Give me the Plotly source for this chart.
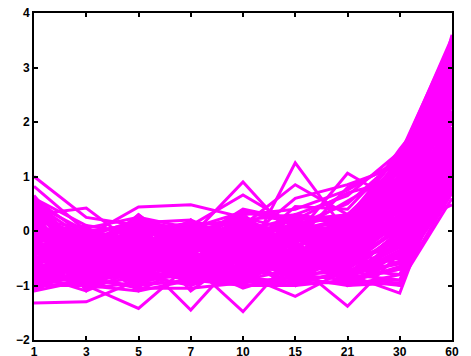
import plotly.graph_objects as go

days = ["1", "3", "5", "7", "10", "15", "21", "30", "60"]
y_ticks = [-2, -1, 0, 1, 2, 3, 4]

# expression profiles (one list per gene)
profiles = [
    [1.0, 0.25, 0.1, 0.0, -0.1, 0.2, 0.3, 0.9, 2.6],
    [0.82, 0.0, -0.2, -0.1, 0.0, -0.3, 0.1, 0.6, 2.4],
    [0.3, 0.42, -0.3, 0.1, 0.2, -0.1, 0.0, 0.2, 1.8],
    [-0.2, -0.1, 0.44, 0.48, 0.25, 0.0, 0.2, 0.5, 2.0],
    [-0.3, -0.5, -0.2, -0.1, 0.9, -0.15, 0.2, 0.7, 2.1],
    [-0.4, -0.2, -0.5, -0.3, -0.6, 1.25, -0.05, 0.4, 1.6],
    [-0.1, -0.3, 0.0, -0.2, -0.1, -0.1, 1.06, 0.5, 1.9],
    [0.1, -0.2, 0.1, 0.0, 0.2, 0.3, 0.17, 1.5, 2.7],
    [-0.5, -0.6, -0.4, -0.5, -0.3, -0.4, -0.2, 0.0, 3.6],
    [-0.6, -0.4, -0.3, 0.1, 0.66, 0.1, 0.3, 0.9, 2.3],
    [-0.2, -0.4, -0.6, -0.2, 0.1, 0.85, 0.3, 1.0, 2.5],
    [0.0, -0.3, -0.1, -0.4, -0.2, 0.6, 0.85, 1.2, 3.0],
    [-0.7, -0.5, -0.3, -0.1, 0.3, 0.4, 0.75, 1.3, 3.3],
    [-1.32, -1.3, -0.9, -0.8, -0.9, -1.0, -0.9, -0.7, 0.9],
    [-1.0, -1.0, -1.42, -0.6, -0.7, -0.9, -0.8, -0.9, 0.7],
    [-0.9, -0.8, -0.5, -1.45, -0.4, -0.8, -0.9, -1.0, 1.1],
    [-0.8, -1.1, -0.7, -0.6, -1.48, -0.4, -0.8, -0.6, 1.2],
    [-1.1, -0.9, -1.0, -0.9, -0.8, -1.2, -0.7, -0.8, 1.0],
    [-0.7, -0.9, -0.8, -1.0, -0.7, -0.6, -1.38, -0.4, 1.3],
    [-0.9, -1.0, -1.1, -0.9, -1.0, -0.9, -0.8, -1.14, 1.4],
    [-0.5, -0.7, -0.6, -0.8, -0.9, -0.7, -0.6, 0.05, 0.48],
    [0.6, -0.1, 0.2, -0.3, 0.1, -0.2, 0.0, 0.8, 2.9],
    [0.5, 0.0, -0.4, 0.1, -0.5, 0.2, -0.3, 0.6, 2.2],
    [0.4, -0.6, 0.0, -0.2, 0.3, -0.6, 0.1, 1.1, 3.1],
    [0.3, -0.3, -0.8, 0.0, -0.2, -0.4, -0.7, 0.3, 1.7],
    [0.2, -0.8, -0.1, -0.6, 0.0, 0.1, -0.5, 0.4, 2.0],
    [0.1, -0.2, -0.6, -0.9, -0.3, -0.8, -0.2, 0.7, 2.6],
    [0.0, -0.5, 0.3, -0.4, -0.7, 0.0, -0.9, -0.2, 1.4],
    [-0.1, 0.1, -0.9, -0.5, -0.1, -0.3, 0.2, 1.0, 3.2],
    [-0.2, -0.9, -0.3, 0.2, -0.9, -0.5, -0.4, 0.1, 1.6],
    [-0.3, -0.4, -0.7, -0.2, 0.2, -0.9, 0.0, 0.9, 2.8],
    [-0.4, 0.0, -0.2, -0.8, -0.4, 0.3, -0.6, 0.2, 1.9],
    [-0.5, -0.7, 0.1, -0.1, -0.8, -0.2, -1.0, -0.4, 1.1],
    [-0.6, -1.0, -0.5, -0.7, 0.0, -0.7, 0.3, 1.2, 3.4],
    [-0.7, -0.3, -1.0, 0.1, -0.6, -0.1, -0.3, 0.5, 2.4],
    [-0.8, -0.6, -0.4, -1.0, 0.3, -0.4, -0.8, 0.0, 1.5],
    [-0.9, -0.1, 0.2, -0.5, -1.0, 0.2, -0.1, 0.6, 2.1],
    [-1.0, -0.8, -0.6, -0.3, -0.5, -1.0, 0.1, 0.8, 2.7],
    [-1.1, -0.5, -0.9, -0.7, -0.2, -0.6, -0.4, -0.6, 0.8],
    [0.55, -0.7, -0.5, 0.0, -0.3, -0.8, 0.2, 1.3, 3.5],
    [0.35, -0.4, -1.1, -0.6, -0.9, 0.0, -0.5, -0.3, 1.3],
    [0.15, -1.1, -0.3, -0.8, 0.1, -0.5, -0.7, 0.3, 1.8],
    [-0.05, -0.6, 0.0, -1.1, -0.4, -0.2, -0.9, -0.1, 1.2],
    [-0.25, -0.2, -0.8, 0.2, -0.6, -1.0, 0.0, 0.7, 2.5],
    [-0.45, -0.9, 0.1, -0.4, -1.0, -0.3, -0.6, 0.4, 2.3],
    [-0.65, 0.05, -0.7, -0.6, 0.2, -0.7, -0.2, 1.0, 3.0],
    [-0.85, -0.4, -0.2, 0.0, -0.7, 0.1, -1.0, -0.8, 0.9],
    [-1.05, -0.7, -0.9, -0.3, -0.1, -0.6, 0.2, 1.1, 3.3],
    [0.45, -0.3, -0.1, -0.9, -0.8, -0.4, -0.3, 0.2, 1.7],
    [0.25, -0.9, -0.6, -0.2, 0.0, -0.9, -0.6, -0.5, 1.0],
    [0.05, -0.5, -1.0, 0.1, -0.5, 0.2, -0.2, 0.6, 2.2],
    [-0.15, 0.0, -0.4, -0.7, -0.9, -0.1, -0.8, 0.0, 1.4],
    [-0.35, -0.8, 0.2, -1.0, -0.2, -0.6, 0.1, 0.9, 2.9],
    [-0.55, -0.2, -0.8, -0.1, 0.3, -0.8, -0.5, 0.5, 2.0],
    [-0.75, -1.0, -0.2, -0.5, -0.6, 0.0, -0.1, 1.2, 3.1],
    [-0.95, -0.6, -0.5, -0.8, -1.0, -0.3, -0.9, -0.7, 0.7],
    [0.65, -0.5, -0.7, -0.1, -0.4, -0.5, -0.4, 0.1, 1.6],
    [-0.25, -1.05, -0.95, -0.95, -0.85, -0.95, -0.95, -0.9, 1.0],
    [-0.6, -0.85, -1.05, -1.05, -0.95, -0.85, -1.0, -0.95, 0.6],
    [-0.9, -1.0, -0.85, -0.7, -1.0, -1.0, -0.7, -1.0, 1.5],
    [-0.4, -0.1, 0.0, 0.15, 0.1, 0.0, 0.25, 1.4, 3.5],
    [0.2, 0.05, 0.25, 0.05, 0.35, 0.25, 0.15, 1.0, 2.8],
    [-0.75, -0.3, 0.15, 0.2, -0.2, 0.3, 0.1, 0.8, 2.6],
    [-0.1, -0.45, -0.35, -0.45, -0.35, -0.45, -0.35, 0.3, 2.1],
    [-0.3, -0.65, -0.55, -0.6, -0.55, -0.65, -0.55, -0.2, 1.3],
    [0.5, -0.15, -0.25, -0.3, -0.15, -0.25, -0.15, 0.45, 2.4],
    [-1.0, -0.75, -0.75, -0.85, -0.75, -0.8, -0.75, -0.6, 1.1],
    [-0.5, -0.25, -0.15, -0.25, 0.0, -0.15, 0.05, 0.65, 2.7],
    [0.0, -0.85, -0.45, -0.6, -0.5, -0.35, -0.25, 0.25, 1.9],
    [0.6, 0.1, -0.05, -0.55, 0.15, -0.35, -0.45, 0.55, 2.5],
    [0.4, -0.25, 0.25, -0.15, -0.65, 0.05, 0.15, 1.15, 3.2],
    [0.3, -0.75, -0.35, 0.1, -0.25, -0.75, -0.15, 0.35, 1.8],
    [0.1, -0.35, -0.85, -0.35, 0.25, -0.25, -0.65, -0.15, 1.2],
    [-0.05, 0.0, -0.15, -0.75, -0.55, 0.15, 0.25, 0.95, 2.9],
    [-0.2, -0.55, 0.05, -0.05, -0.15, -0.55, -0.85, -0.45, 0.95],
    [-0.35, -0.95, -0.65, -0.35, 0.05, 0.0, -0.35, 0.45, 2.2],
    [-0.5, -0.15, -0.45, -0.95, -0.45, -0.85, 0.0, 0.75, 2.6],
    [-0.65, -0.55, 0.3, -0.55, -0.85, -0.15, -0.55, 0.15, 1.7],
    [-0.8, -0.95, -0.25, 0.05, -0.35, -0.45, -0.25, 1.05, 3.0],
    [-0.95, -0.35, -0.55, -0.45, 0.15, -0.95, -0.75, -0.25, 1.3],
    [-1.1, -0.65, -0.05, -0.65, -0.65, -0.05, 0.05, 0.6, 2.4],
    [0.55, -0.45, -0.95, -0.75, -0.05, -0.65, -0.05, 0.85, 2.8],
    [0.2, -0.05, -0.55, 0.15, -0.95, -0.35, -0.95, -0.55, 0.85],
    [-0.15, -0.75, 0.15, -0.25, 0.35, 0.15, -0.45, 0.25, 1.9],
    [-0.45, 0.1, -0.85, -0.15, -0.75, -0.65, 0.2, 1.25, 3.4],
    [-0.7, -0.45, -0.35, -0.95, 0.0, 0.25, -0.65, 0.05, 1.5],
    [-0.9, -0.2, 0.1, -0.35, -0.3, -0.9, -0.3, 0.5, 2.3],
    [0.35, -0.95, -0.75, -0.5, -0.75, -0.2, -0.85, -0.35, 1.05],
    [0.0, -0.65, -0.3, -0.85, 0.05, -0.45, 0.0, 1.35, 3.55],
    [-0.3, -0.3, -1.05, 0.0, -0.4, 0.1, -0.55, 0.7, 2.5],
    [-0.6, -0.05, -0.6, -0.6, -1.05, -0.75, -0.15, 0.35, 2.0],
    [-0.85, -0.85, 0.0, -0.2, 0.2, -0.3, -0.95, -0.65, 0.75],
    [0.5, -0.6, -0.45, 0.05, -0.6, 0.05, -0.6, 0.05, 1.55],
    [0.15, -0.3, 0.2, -0.7, -0.2, -0.6, 0.3, 1.1, 3.15],
    [-0.25, -0.85, -0.7, 0.1, -0.05, -0.95, -0.2, 0.4, 2.05],
    [-0.55, -0.4, -0.1, -0.4, -0.8, 0.2, -0.8, -0.3, 1.15],
    [-0.8, -0.1, -0.9, -0.8, 0.1, -0.2, 0.15, 0.9, 2.75],
    [-1.0, -0.6, -0.3, 0.15, -0.45, -0.5, -0.5, 0.0, 1.65],
    [0.45, -0.8, 0.05, -0.3, 0.25, -0.85, -0.1, 0.65, 2.35],
    [0.05, -0.2, -0.75, -0.9, -0.35, 0.05, -0.7, -0.05, 1.35],
    [-0.4, -0.7, -0.2, -0.6, -0.95, -0.4, 0.1, 1.2, 3.25],
    [-0.75, -0.9, 0.2, 0.0, -0.15, -0.1, -0.4, 0.55, 2.15],
    [0.25, -0.1, -0.65, -0.45, -0.7, -0.7, -0.05, 0.8, 2.55],
    [-0.1, -0.5, -0.95, -0.25, 0.2, -0.25, -0.8, -0.2, 1.25],
    [-0.45, 0.0, 0.1, -0.85, -0.25, -0.8, -0.35, 0.3, 1.85],
    [-0.7, -0.75, -0.5, -0.15, -0.9, 0.1, 0.0, 1.0, 2.95],
    [-1.05, -0.25, -0.15, -0.5, -0.55, -0.55, -0.6, -0.5, 0.95],
    [0.6, -0.65, -0.2, -0.65, -0.1, -0.15, -0.25, 0.5, 2.2],
    [0.1, -0.9, -0.5, 0.0, -0.6, -0.6, 0.2, 1.3, 3.45],
    [-0.2, 0.05, -0.7, -0.4, 0.0, 0.0, -0.5, 0.15, 1.75],
    [-0.55, -0.35, 0.0, -0.75, -0.35, -0.35, -0.7, -0.1, 1.45],
    [-0.85, -0.55, -0.85, -0.1, -0.8, -0.05, -0.1, 0.7, 2.65],
    [0.35, -0.2, -0.3, -0.55, -0.45, -0.9, -0.45, 0.2, 2.05],
    [-0.05, -0.7, -0.1, -0.35, -0.9, -0.3, 0.1, 0.95, 3.05],
    [-0.35, -1.0, -0.4, -0.8, 0.1, -0.7, -0.3, 0.45, 2.45],
    [-0.65, -0.2, -0.75, 0.05, -0.3, 0.05, -0.85, -0.4, 1.1],
    [-0.95, -0.45, -0.3, -0.6, -0.65, -0.5, 0.05, 0.85, 2.85],
    [0.2, -0.55, -0.55, -0.1, 0.1, -0.45, -0.65, 0.1, 1.6],
    [-0.3, -0.8, 0.1, -0.3, -0.5, 0.1, -0.2, 1.15, 3.35],
    [-0.3, -0.6, -0.2, -0.4, -0.1, 0.1, 0.5, 1.35, 3.0],
    [-0.6, -0.2, -0.5, 0.0, -0.3, 0.3, 0.65, 1.45, 2.9],
    [0.0, -0.4, -0.3, -0.2, 0.1, -0.2, 0.8, 1.25, 2.6],
    [-0.4, -0.5, 0.0, -0.5, -0.4, 0.45, 0.4, 1.4, 3.2],
    [0.2, -0.1, -0.6, -0.3, -0.2, 0.0, 0.55, 1.1, 2.3],
    [-0.8, -0.7, -0.4, -0.2, 0.4, 0.2, 0.7, 0.95, 2.0],
]

fig = go.Figure()
for p in profiles:
    fig.add_trace(go.Scatter(x=days, y=p, mode="lines",
                             line=dict(color="#ff00ff", width=3),
                             showlegend=False, hoverinfo="skip"))

tick_font = dict(family="Liberation Sans, Arial, sans-serif", size=12,
                 color="black", weight="bold")
axis_common = dict(showline=True, linecolor="black", linewidth=2, mirror="ticks",
                   ticks="inside", ticklen=4, tickwidth=2, tickcolor="black",
                   showgrid=False, zeroline=False, tickfont=tick_font,
                   automargin=False)

fig.update_layout(
    width=471, height=356,
    margin=dict(l=34, r=19, t=13, b=16),
    paper_bgcolor="white", plot_bgcolor="white",
    xaxis=dict(type="category", categoryarray=days, range=[0, 8], **axis_common),
    yaxis=dict(range=[-2, 4], tickvals=y_ticks, **axis_common),
)

fig.write_html("out.html", config={"displayModeBar": False},
               post_script="document.body.style.margin='0';")
